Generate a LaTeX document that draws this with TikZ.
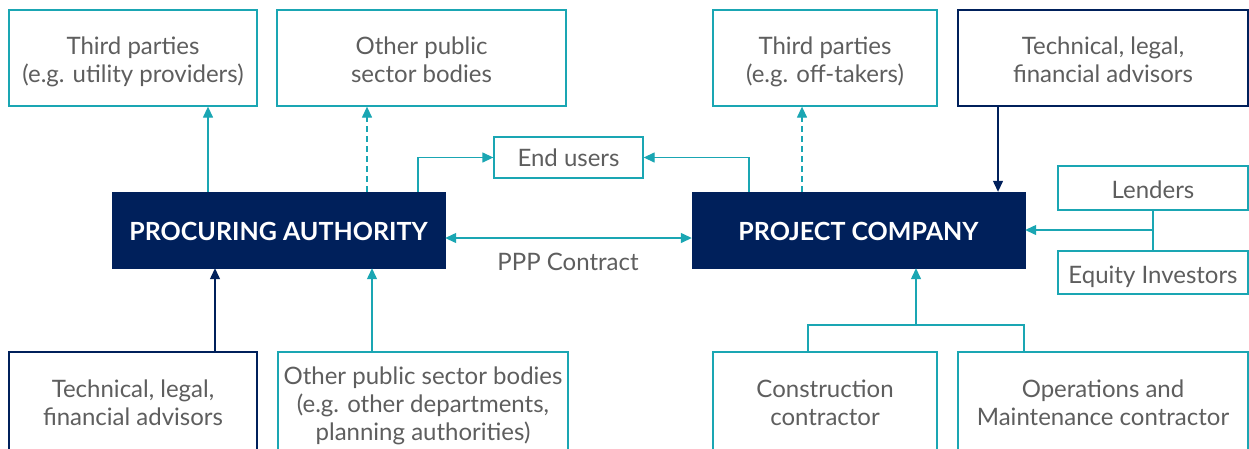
\documentclass[tikz,border=0pt]{standalone}
\usepackage{fontspec}
\setmainfont{Lato}
\usetikzlibrary{arrows.meta}
\definecolor{tealc}{HTML}{1AA6B3}
\definecolor{navyc}{HTML}{00205B}
\definecolor{txtc}{HTML}{5E5E5E}
\newcommand{\btx}[2]{\raisebox{#1}[\height][\depth]{\begin{tabular}{@{}c@{}}#2\end{tabular}}}
\begin{document}
\begin{tikzpicture}[x=1pt,y=-1pt,
  box/.style={draw=tealc, line width=1.3pt, text=txtc,
    font=\fontsize{24}{28}\selectfont, inner sep=0pt},
  nbox/.style={box, draw=navyc},
  mainbox/.style={fill=navyc, draw=navyc, text=white, inner sep=0pt,
    font=\fontsize{25}{28}\selectfont\bfseries},
  con/.style={draw=tealc, line width=1.3pt},
  ncon/.style={draw=navyc, line width=1.3pt},
  tip/.style={-{Triangle[length=11pt,width=10pt]}},
  dsh/.style={dash pattern=on 6pt off 4pt}
]
\useasboundingbox (0,0) rectangle (1249,448);
\fill[white] (0,0) rectangle (1249,448);

% top row
\node[box, minimum width=248pt, minimum height=96pt] (tp1) at (133,58) {\btx{-5pt}{Third parties\\(e.g. utility providers)}};
\node[box, minimum width=289pt, minimum height=96pt] (opst) at (421.5,58) {\btx{-5pt}{Other public\\sector bodies}};
\node[box, minimum width=224pt, minimum height=96pt] (tp2) at (825,58) {\btx{-5pt}{Third parties\\(e.g. off-takers)}};
\node[nbox, minimum width=290pt, minimum height=96pt] (techr) at (1103,58) {\btx{-5pt}{Technical, legal,\\financial advisors}};

% middle
\node[box, minimum width=149pt, minimum height=41pt] (eu) at (568.5,157.5) {\btx{-3pt}{End users}};
\node[mainbox, minimum width=333pt, minimum height=76pt] (pa) at (278.5,230) {\raisebox{-1pt}[\height][\depth]{PROCURING AUTHORITY}};
\node[mainbox, minimum width=333pt, minimum height=76pt] (pc) at (858.5,230) {\raisebox{-1pt}[\height][\depth]{PROJECT COMPANY}};
\node[box, minimum width=190pt, minimum height=44pt] (len) at (1153,188) {\btx{-5pt}{Lenders}};
\node[box, minimum width=190pt, minimum height=43pt] (eq) at (1153,272.5) {\btx{-5pt}{Equity Investors}};
\node[text=txtc, font=\fontsize{24}{28}\selectfont, inner sep=0pt] (ppp) at (568,262) {\btx{-3pt}{PPP Contract}};

% bottom row
\node[nbox, minimum width=248pt, minimum height=102pt] (techl) at (133,403) {\btx{-3pt}{Technical, legal,\\financial advisors}};
\node[box, minimum width=290pt, minimum height=102pt] (opsb) at (423,403) {\btx{-4pt}{Other public sector bodies\\(e.g. other departments,\\planning authorities)}};
\node[box, minimum width=224pt, minimum height=102pt] (cons) at (825,403) {\btx{-3pt}{Construction\\contractor}};
\node[box, minimum width=290pt, minimum height=102pt] (om) at (1103,403) {\btx{-3pt}{Operations and\\Maintenance contractor}};

% helper coordinates
\coordinate (xa) at (208,0);
\coordinate (xb) at (367,0);
\coordinate (xc) at (418,0);
\coordinate (xd) at (749,0);
\coordinate (xe) at (802,0);
\coordinate (xf) at (998,0);
\coordinate (xg) at (215,0);
\coordinate (xh) at (372,0);
\coordinate (xi) at (808,0);
\coordinate (xj) at (1024,0);
\coordinate (xk) at (916,0);
\coordinate (yppp) at (0,238);
\coordinate (ybr) at (0,325);
\coordinate (jn) at (1153,230);

% connectors
\draw[con, tip] (pa.north -| xa) -- (tp1.south -| xa);
\draw[con, tip, dsh] (pa.north -| xb) -- (opst.south -| xb);
\draw[con, tip] (pa.north -| xc) |- (eu.west);
\draw[con, tip] (pc.north -| xd) |- (eu.east);
\draw[con, tip, dsh] (pc.north -| xe) -- (tp2.south -| xe);
\draw[ncon, tip] (techr.south -| xf) -- (pc.north -| xf);
\draw[con, {Triangle[length=11pt,width=10pt]}-{Triangle[length=11pt,width=10pt]}] (pa.east |- yppp) -- (pc.west |- yppp);
\draw[con] (len.south) -- (eq.north);
\draw[con, tip] (jn) -- (pc.east |- jn);
\draw[ncon, tip] (techl.north -| xg) -- (pa.south -| xg);
\draw[con, tip] (opsb.north -| xh) -- (pa.south -| xh);
\draw[con] (cons.north -| xi) |- (ybr -| xj) -- (om.north -| xj);
\draw[con, tip] (ybr -| xk) -- (pc.south -| xk);
\end{tikzpicture}
\end{document}
